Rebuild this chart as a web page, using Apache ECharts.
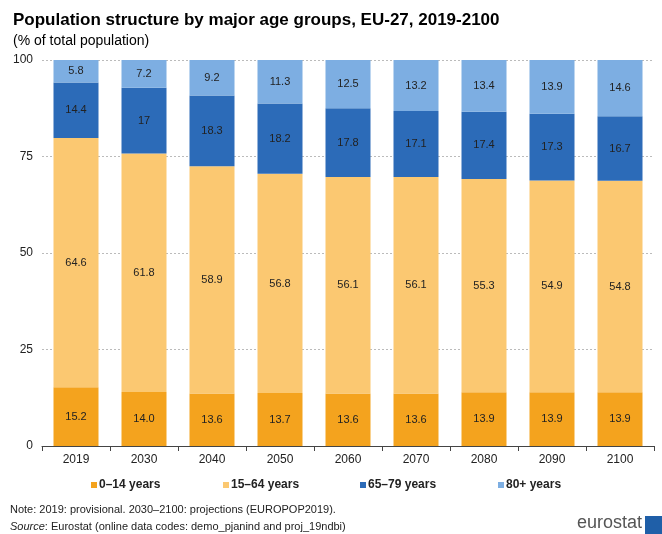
<!DOCTYPE html>
<html>
<head>
<meta charset="utf-8">
<script src="https://cdn.jsdelivr.net/npm/echarts@6/dist/echarts.min.js"></script>
<style>
  html, body { margin: 0; padding: 0; background: #fff; }
  #chart { width: 662px; height: 534px; }
</style>
</head>
<body>
<div id="chart"></div>
<script>
// Population shares by age group, EU-27
const years = ['2019', '2030', '2040', '2050', '2060', '2070', '2080', '2090', '2100'];
const age0to14 = [15.2, 14.0, 13.6, 13.7, 13.6, 13.6, 13.9, 13.9, 13.9];
const age15to64 = [64.6, 61.8, 58.9, 56.8, 56.1, 56.1, 55.3, 54.9, 54.8];
const age65to79 = [14.4, 17, 18.3, 18.2, 17.8, 17.1, 17.4, 17.3, 16.7];
const age80plus = [5.8, 7.2, 9.2, 11.3, 12.5, 13.2, 13.4, 13.9, 14.6];
const seriesNames = ['0–14 years', '15–64 years', '65–79 years', '80+ years'];
const yTicks = [0, 25, 50, 75, 100];

const font = 'Liberation Sans, Arial, sans-serif';
const legendLeft = [86, 218, 355, 493];

function stackSeries(name, data, color, fixed) {
  return {
    name: name,
    type: 'bar',
    stack: 'total',
    data: data,
    barWidth: 45,
    itemStyle: { color: color },
    label: {
      show: true,
      position: 'inside',
      color: '#222',
      fontFamily: font,
      fontSize: 11,
      formatter: p => fixed ? p.value.toFixed(1) : String(p.value)
    }
  };
}

// one legend per item so each entry can sit at its own position
const legends = seriesNames.map((n, i) => ({
  data: [n],
  left: legendLeft[i],
  top: 474,
  itemWidth: 6,
  itemHeight: 6,
  itemGap: 0,
  icon: 'rect',
  selectedMode: false,
  textStyle: { fontFamily: font, fontSize: 12, fontWeight: 'bold', color: '#222', padding: [0, 0, 0, -3] }
}));

const chart = echarts.init(document.getElementById('chart'));
chart.setOption({
  animation: false,
  backgroundColor: '#fff',
  title: [
    { text: 'Population structure by major age groups, EU-27, 2019-2100', left: 8, top: 7,
      textStyle: { fontFamily: font, fontSize: 17, fontWeight: 'bold', color: '#000' } },
    { text: '(% of total population)', left: 8, top: 29,
      textStyle: { fontFamily: font, fontSize: 14, fontWeight: 'normal', color: '#000' } }
  ],
  grid: { left: 42, right: 8, top: 60, bottom: 88 },
  legend: legends,
  xAxis: {
    type: 'category',
    data: years,
    axisLine: { lineStyle: { color: '#444' } },
    axisTick: { show: true, length: 5, lineStyle: { color: '#444' } },
    axisLabel: { fontFamily: font, fontSize: 12, color: '#222', margin: 8 }
  },
  yAxis: {
    type: 'value',
    min: yTicks[0],
    max: yTicks[yTicks.length - 1],
    interval: 25,
    axisLine: { show: false },
    axisTick: { show: false },
    axisLabel: { fontFamily: font, fontSize: 12, color: '#222', margin: 9 },
    splitLine: { lineStyle: { color: '#bbb', type: [2, 2] } }
  },
  series: [
    stackSeries(seriesNames[0], age0to14, '#F4A31E', true),
    stackSeries(seriesNames[1], age15to64, '#FBC871', false),
    stackSeries(seriesNames[2], age65to79, '#2C6BB8', false),
    stackSeries(seriesNames[3], age80plus, '#7DAEE2', false)
  ],
  graphic: [
    { type: 'text', left: 10, top: 504,
      style: { text: 'Note: 2019: provisional. 2030–2100: projections (EUROPOP2019).',
               font: '11px ' + font, fill: '#222' } },
    { type: 'text', left: 10, top: 521,
      style: { text: '{i|Source}: Eurostat (online data codes: demo_pjanind and proj_19ndbi)',
               font: '11px ' + font, fill: '#222',
               rich: { i: { fontStyle: 'italic', font: 'italic 11px ' + font, fill: '#222' } } } },
    { type: 'text', right: 20, top: 514,
      style: { text: 'eurostat', font: '18px ' + font, fill: '#555' } },
    { type: 'rect', right: 0, top: 516, shape: { width: 17, height: 18 },
      style: { fill: '#1F5FA8' } }
  ]
});
</script>
</body>
</html>
